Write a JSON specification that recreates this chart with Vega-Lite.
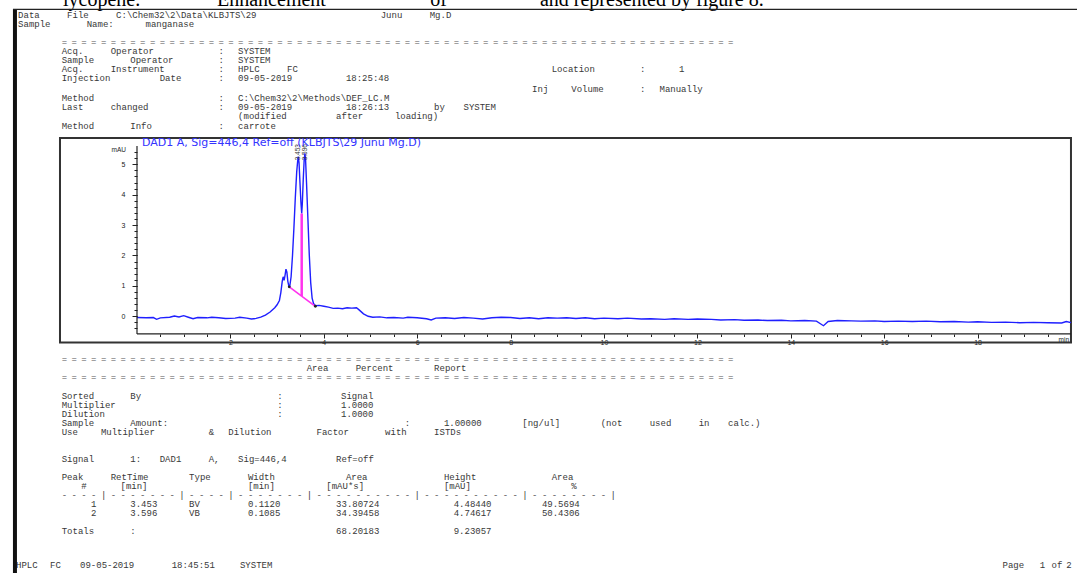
{
  "$schema": "https://vega.github.io/schema/vega-lite/v6.json",
  "width": 1077,
  "height": 573,
  "padding": 0,
  "autosize": {"type": "none"},
  "background": "white",
  "config": {"view": {"stroke": null}},
  "datasets": {
    "txt": [
      {"r": 0, "c": -4.45, "s": "Data"}, {"r": 0, "c": 0.55, "s": "File"}, {"r": 0, "c": 5.55, "s": "C:\\Chem32\\2\\Data\\KLBJTS\\29"}, {"r": 0, "c": 32.55, "s": "Junu"}, {"r": 0, "c": 37.55, "s": "Mg.D"},
      {"r": 1, "c": -4.45, "s": "Sample"}, {"r": 1, "c": 2.55, "s": "Name:"}, {"r": 1, "c": 8.55, "s": "manganase"},
      {"r": 4, "c": 0, "s": "Acq."}, {"r": 4, "c": 5, "s": "Operator"}, {"r": 4, "c": 16, "s": ":"}, {"r": 4, "c": 18, "s": "SYSTEM"},
      {"r": 5, "c": 0, "s": "Sample"}, {"r": 5, "c": 7, "s": "Operator"}, {"r": 5, "c": 16, "s": ":"}, {"r": 5, "c": 18, "s": "SYSTEM"},
      {"r": 6, "c": 0, "s": "Acq."}, {"r": 6, "c": 5, "s": "Instrument"}, {"r": 6, "c": 16, "s": ":"}, {"r": 6, "c": 18, "s": "HPLC"}, {"r": 6, "c": 23, "s": "FC"}, {"r": 6, "c": 50, "s": "Location"}, {"r": 6, "c": 59, "s": ":"}, {"r": 6, "c": 63, "s": "1"},
      {"r": 7, "c": 0, "s": "Injection"}, {"r": 7, "c": 10, "s": "Date"}, {"r": 7, "c": 16, "s": ":"}, {"r": 7, "c": 18, "s": "09-05-2019"}, {"r": 7, "c": 29, "s": "18:25:48"},
      {"r": 8.2, "c": 48, "s": "Inj"}, {"r": 8.2, "c": 52, "s": "Volume"}, {"r": 8.2, "c": 59, "s": ":"}, {"r": 8.2, "c": 61, "s": "Manually"},
      {"r": 9.2, "c": 0, "s": "Method"}, {"r": 9.2, "c": 16, "s": ":"}, {"r": 9.2, "c": 18, "s": "C:\\Chem32\\2\\Methods\\DEF_LC.M"},
      {"r": 10.2, "c": 0, "s": "Last"}, {"r": 10.2, "c": 5, "s": "changed"}, {"r": 10.2, "c": 16, "s": ":"}, {"r": 10.2, "c": 18, "s": "09-05-2019"}, {"r": 10.2, "c": 29, "s": "18:26:13"}, {"r": 10.2, "c": 38, "s": "by"}, {"r": 10.2, "c": 41, "s": "SYSTEM"},
      {"r": 11.2, "c": 18, "s": "(modified"}, {"r": 11.2, "c": 28, "s": "after"}, {"r": 11.2, "c": 34, "s": "loading)"},
      {"r": 12.2, "c": 0, "s": "Method"}, {"r": 12.2, "c": 7, "s": "Info"}, {"r": 12.2, "c": 16, "s": ":"}, {"r": 12.2, "c": 18, "s": "carrote"},
      {"r": 39, "c": 25, "s": "Area"}, {"r": 39, "c": 30, "s": "Percent"}, {"r": 39, "c": 38, "s": "Report"},
      {"r": 42, "c": 0, "s": "Sorted"}, {"r": 42, "c": 7, "s": "By"}, {"r": 42, "c": 22, "s": ":"}, {"r": 42, "c": 28.5, "s": "Signal"},
      {"r": 43, "c": 0, "s": "Multiplier"}, {"r": 43, "c": 22, "s": ":"}, {"r": 43, "c": 28.5, "s": "1.0000"},
      {"r": 44, "c": 0, "s": "Dilution"}, {"r": 44, "c": 22, "s": ":"}, {"r": 44, "c": 28.5, "s": "1.0000"},
      {"r": 45, "c": 0, "s": "Sample"}, {"r": 45, "c": 7, "s": "Amount:"}, {"r": 45, "c": 35, "s": ":"}, {"r": 45, "c": 39, "s": "1.00000"}, {"r": 45, "c": 47, "s": "[ng/ul]"}, {"r": 45, "c": 55, "s": "(not"}, {"r": 45, "c": 60, "s": "used"}, {"r": 45, "c": 65, "s": "in"}, {"r": 45, "c": 68, "s": "calc.)"},
      {"r": 46, "c": 0, "s": "Use"}, {"r": 46, "c": 4, "s": "Multiplier"}, {"r": 46, "c": 15, "s": "&"}, {"r": 46, "c": 17, "s": "Dilution"}, {"r": 46, "c": 26, "s": "Factor"}, {"r": 46, "c": 33, "s": "with"}, {"r": 46, "c": 38, "s": "ISTDs"},
      {"r": 49, "c": 0, "s": "Signal"}, {"r": 49, "c": 7, "s": "1:"}, {"r": 49, "c": 10, "s": "DAD1"}, {"r": 49, "c": 15, "s": "A,"}, {"r": 49, "c": 18, "s": "Sig=446,4"}, {"r": 49, "c": 28, "s": "Ref=off"},
      {"r": 51, "c": 0, "s": "Peak"}, {"r": 51, "c": 5, "s": "RetTime"}, {"r": 51, "c": 13, "s": "Type"}, {"r": 51, "c": 19, "s": "Width"}, {"r": 51, "c": 29, "s": "Area"}, {"r": 51, "c": 39, "s": "Height"}, {"r": 51, "c": 50, "s": "Area"},
      {"r": 52, "c": 2, "s": "#"}, {"r": 52, "c": 6, "s": "[min]"}, {"r": 52, "c": 19, "s": "[min]"}, {"r": 52, "c": 27, "s": "[mAU*s]"}, {"r": 52, "c": 39, "s": "[mAU]"}, {"r": 52, "c": 52, "s": "%"},
      {"r": 53, "c": 4, "s": "|"}, {"r": 53, "c": 12, "s": "|"}, {"r": 53, "c": 17, "s": "|"}, {"r": 53, "c": 25, "s": "|"}, {"r": 53, "c": 36, "s": "|"}, {"r": 53, "c": 47, "s": "|"}, {"r": 53, "c": 56, "s": "|"},
      {"r": 54, "c": 3, "s": "1"}, {"r": 54, "c": 7, "s": "3.453"}, {"r": 54, "c": 13, "s": "BV"}, {"r": 54, "c": 19, "s": "0.1120"}, {"r": 54, "c": 28, "s": "33.80724"}, {"r": 54, "c": 40, "s": "4.48440"}, {"r": 54, "c": 49, "s": "49.5694"},
      {"r": 55, "c": 3, "s": "2"}, {"r": 55, "c": 7, "s": "3.596"}, {"r": 55, "c": 13, "s": "VB"}, {"r": 55, "c": 19, "s": "0.1085"}, {"r": 55, "c": 28, "s": "34.39458"}, {"r": 55, "c": 40, "s": "4.74617"}, {"r": 55, "c": 49, "s": "50.4306"},
      {"r": 57, "c": 0, "s": "Totals"}, {"r": 57, "c": 7, "s": ":"}, {"r": 57, "c": 28, "s": "68.20183"}, {"r": 57, "c": 40, "s": "9.23057"},
      {"r": 60.7, "c": -4.66, "s": "HPLC"}, {"r": 60.7, "c": -1.19, "s": "FC"}, {"r": 60.7, "c": 1.87, "s": "09-05-2019"}, {"r": 60.7, "c": 11.22, "s": "18:45:51"}, {"r": 60.7, "c": 18.19, "s": "SYSTEM"},
      {"r": 60.7, "c": 96, "s": "Page"}, {"r": 60.7, "c": 99.8, "s": "1"}, {"r": 60.7, "c": 101, "s": "of"}, {"r": 60.7, "c": 102.5, "s": "2"}
    ],
    "eqcols": [
      {"c": 0}, {"c": 1}, {"c": 2}, {"c": 3}, {"c": 4}, {"c": 5}, {"c": 6}, {"c": 7}, {"c": 8}, {"c": 9},
      {"c": 10}, {"c": 11}, {"c": 12}, {"c": 13}, {"c": 14}, {"c": 15}, {"c": 16}, {"c": 17}, {"c": 18}, {"c": 19},
      {"c": 20}, {"c": 21}, {"c": 22}, {"c": 23}, {"c": 24}, {"c": 25}, {"c": 26}, {"c": 27}, {"c": 28}, {"c": 29},
      {"c": 30}, {"c": 31}, {"c": 32}, {"c": 33}, {"c": 34}, {"c": 35}, {"c": 36}, {"c": 37}, {"c": 38}, {"c": 39},
      {"c": 40}, {"c": 41}, {"c": 42}, {"c": 43}, {"c": 44}, {"c": 45}, {"c": 46}, {"c": 47}, {"c": 48}, {"c": 49},
      {"c": 50}, {"c": 51}, {"c": 52}, {"c": 53}, {"c": 54}, {"c": 55}, {"c": 56}, {"c": 57}, {"c": 58}, {"c": 59},
      {"c": 60}, {"c": 61}, {"c": 62}, {"c": 63}, {"c": 64}, {"c": 65}, {"c": 66}, {"c": 67}, {"c": 68}
    ],
    "dashcols": [
      {"c": 0}, {"c": 1}, {"c": 2}, {"c": 3},
      {"c": 5}, {"c": 6}, {"c": 7}, {"c": 8}, {"c": 9}, {"c": 10}, {"c": 11},
      {"c": 13}, {"c": 14}, {"c": 15}, {"c": 16},
      {"c": 18}, {"c": 19}, {"c": 20}, {"c": 21}, {"c": 22}, {"c": 23}, {"c": 24},
      {"c": 26}, {"c": 27}, {"c": 28}, {"c": 29}, {"c": 30}, {"c": 31}, {"c": 32}, {"c": 33}, {"c": 34}, {"c": 35},
      {"c": 37}, {"c": 38}, {"c": 39}, {"c": 40}, {"c": 41}, {"c": 42}, {"c": 43}, {"c": 44}, {"c": 45}, {"c": 46},
      {"c": 48}, {"c": 49}, {"c": 50}, {"c": 51}, {"c": 52}, {"c": 53}, {"c": 54}, {"c": 55}
    ],
    "serif": [
      {"r": -1.0, "c": 0.13, "s": "lycopene."}, {"r": -1.0, "c": 15.85, "s": "Enhancement"}, {"r": -1.0, "c": 37.6, "s": "of"}, {"r": -1.0, "c": 48.8, "s": "and represented by figure 8."}
    ],
    "pagebar": [{"c": -4.77, "r0": -0.66, "r1": 61.589}],
    "trace": [
      {"t": 0, "v": -0.04}, {"t": 0.2, "v": -0.05}, {"t": 0.35, "v": -0.04}, {"t": 0.42, "v": -0.1}, {"t": 0.5, "v": -0.05}, {"t": 0.7, "v": -0.03}, {"t": 0.8, "v": 0.01}, {"t": 0.9, "v": -0.02}, {"t": 1.0, "v": 0.02}, {"t": 1.1, "v": -0.03}, {"t": 1.2, "v": -0.08}, {"t": 1.3, "v": -0.04}, {"t": 1.5, "v": -0.05}, {"t": 1.6, "v": -0.03}, {"t": 1.75, "v": -0.05}, {"t": 1.9, "v": -0.07}, {"t": 2.1, "v": -0.06}, {"t": 2.2, "v": -0.03}, {"t": 2.35, "v": -0.06}, {"t": 2.45, "v": -0.09}, {"t": 2.55, "v": -0.07}, {"t": 2.65, "v": -0.03}, {"t": 2.75, "v": 0.04}, {"t": 2.85, "v": 0.14}, {"t": 2.95, "v": 0.28}, {"t": 3.0, "v": 0.38}, {"t": 3.05, "v": 0.52}, {"t": 3.08, "v": 0.78}, {"t": 3.11, "v": 1.15}, {"t": 3.13, "v": 1.3}, {"t": 3.15, "v": 1.18}, {"t": 3.17, "v": 1.35}, {"t": 3.19, "v": 1.55}, {"t": 3.21, "v": 1.45}, {"t": 3.23, "v": 1.15}, {"t": 3.25, "v": 1.0}, {"t": 3.27, "v": 0.98}, {"t": 3.3, "v": 1.3}, {"t": 3.33, "v": 2.0}, {"t": 3.36, "v": 2.9}, {"t": 3.39, "v": 3.9}, {"t": 3.42, "v": 4.75}, {"t": 3.44, "v": 5.1}, {"t": 3.453, "v": 5.25}, {"t": 3.47, "v": 5.05}, {"t": 3.49, "v": 4.4}, {"t": 3.51, "v": 3.75}, {"t": 3.527, "v": 3.38}, {"t": 3.54, "v": 3.7}, {"t": 3.56, "v": 4.5}, {"t": 3.58, "v": 5.15}, {"t": 3.596, "v": 5.36}, {"t": 3.61, "v": 5.15}, {"t": 3.63, "v": 4.4}, {"t": 3.66, "v": 3.2}, {"t": 3.69, "v": 2.0}, {"t": 3.72, "v": 1.1}, {"t": 3.75, "v": 0.6}, {"t": 3.78, "v": 0.42}, {"t": 3.82, "v": 0.35}, {"t": 3.9, "v": 0.36}, {"t": 4.0, "v": 0.33}, {"t": 4.1, "v": 0.3}, {"t": 4.2, "v": 0.26}, {"t": 4.3, "v": 0.27}, {"t": 4.4, "v": 0.25}, {"t": 4.5, "v": 0.28}, {"t": 4.6, "v": 0.27}, {"t": 4.7, "v": 0.28}, {"t": 4.75, "v": 0.22}, {"t": 4.85, "v": 0.08}, {"t": 4.95, "v": 0.0}, {"t": 5.05, "v": -0.03}, {"t": 5.2, "v": -0.02}, {"t": 5.35, "v": -0.05}, {"t": 5.5, "v": -0.04}, {"t": 5.7, "v": -0.06}, {"t": 5.8, "v": -0.03}, {"t": 6.0, "v": -0.05}, {"t": 6.2, "v": -0.08}, {"t": 6.3, "v": -0.12}, {"t": 6.4, "v": -0.06}, {"t": 6.6, "v": -0.05}, {"t": 6.8, "v": -0.07}, {"t": 7.0, "v": -0.04}, {"t": 7.2, "v": -0.06}, {"t": 7.4, "v": -0.09}, {"t": 7.6, "v": -0.05}, {"t": 7.8, "v": -0.03}, {"t": 8.0, "v": -0.04}, {"t": 8.2, "v": -0.07}, {"t": 8.4, "v": -0.05}, {"t": 8.6, "v": -0.08}, {"t": 8.8, "v": -0.05}, {"t": 9.0, "v": -0.06}, {"t": 9.2, "v": -0.05}, {"t": 9.4, "v": -0.07}, {"t": 9.6, "v": -0.05}, {"t": 9.8, "v": -0.08}, {"t": 10.0, "v": -0.06}, {"t": 10.3, "v": -0.08}, {"t": 10.5, "v": -0.06}, {"t": 10.8, "v": -0.09}, {"t": 11.0, "v": -0.08}, {"t": 11.3, "v": -0.1}, {"t": 11.5, "v": -0.08}, {"t": 11.8, "v": -0.1}, {"t": 12.0, "v": -0.09}, {"t": 12.3, "v": -0.1}, {"t": 12.5, "v": -0.12}, {"t": 12.8, "v": -0.11}, {"t": 13.0, "v": -0.13}, {"t": 13.3, "v": -0.12}, {"t": 13.5, "v": -0.14}, {"t": 13.8, "v": -0.13}, {"t": 14.0, "v": -0.15}, {"t": 14.3, "v": -0.14}, {"t": 14.55, "v": -0.16}, {"t": 14.7, "v": -0.31}, {"t": 14.8, "v": -0.17}, {"t": 15.0, "v": -0.14}, {"t": 15.3, "v": -0.15}, {"t": 15.5, "v": -0.16}, {"t": 15.8, "v": -0.15}, {"t": 16.0, "v": -0.17}, {"t": 16.3, "v": -0.16}, {"t": 16.6, "v": -0.17}, {"t": 16.9, "v": -0.16}, {"t": 17.2, "v": -0.18}, {"t": 17.5, "v": -0.17}, {"t": 17.8, "v": -0.19}, {"t": 18.0, "v": -0.18}, {"t": 18.3, "v": -0.2}, {"t": 18.6, "v": -0.19}, {"t": 18.9, "v": -0.21}, {"t": 19.2, "v": -0.2}, {"t": 19.5, "v": -0.21}, {"t": 19.8, "v": -0.22}, {"t": 19.9, "v": -0.17}, {"t": 20.0, "v": -0.21}
    ],
    "baseline": [{"t": 3.26, "v": 0.97}, {"t": 3.82, "v": 0.33}],
    "drop": [{"t": 3.527, "v0": 0.665, "v1": 3.38}],
    "peaks": [{"t": 3.453, "label": "3.453"}, {"t": 3.596, "label": "3.596"}]
  },
  "layer": [
    {
      "layer": [
        {
          "data": {"name": "txt"},
          "mark": {"type": "text", "font": "Liberation Mono", "fontSize": 9, "align": "left", "baseline": "middle", "color": "#383838"},
          "encoding": {
            "x": {"field": "c", "type": "quantitative", "scale": {"domain": [-6.296, 103.602], "nice": false, "zero": false}, "axis": null},
            "y": {"field": "r", "type": "quantitative", "scale": {"domain": [-1.6556, 61.589], "nice": false, "zero": false, "reverse": true}, "axis": null},
            "text": {"field": "s"}
          }
        },
        {
          "data": {"name": "eqcols"},
          "mark": {"type": "text", "text": "=", "font": "Liberation Mono", "fontSize": 9, "align": "left", "baseline": "middle", "color": "#555555"},
          "encoding": {
            "x": {"field": "c", "type": "quantitative", "scale": {"domain": [-6.296, 103.602], "nice": false, "zero": false}, "axis": null},
            "y": {"datum": 3, "type": "quantitative", "scale": {"domain": [-1.6556, 61.589], "nice": false, "zero": false, "reverse": true}, "axis": null}
          }
        },
        {
          "data": {"name": "eqcols"},
          "mark": {"type": "text", "text": "=", "font": "Liberation Mono", "fontSize": 9, "align": "left", "baseline": "middle", "color": "#555555"},
          "encoding": {
            "x": {"field": "c", "type": "quantitative", "scale": {"domain": [-6.296, 103.602], "nice": false, "zero": false}, "axis": null},
            "y": {"datum": 38, "type": "quantitative", "scale": {"domain": [-1.6556, 61.589], "nice": false, "zero": false, "reverse": true}, "axis": null}
          }
        },
        {
          "data": {"name": "eqcols"},
          "mark": {"type": "text", "text": "=", "font": "Liberation Mono", "fontSize": 9, "align": "left", "baseline": "middle", "color": "#555555"},
          "encoding": {
            "x": {"field": "c", "type": "quantitative", "scale": {"domain": [-6.296, 103.602], "nice": false, "zero": false}, "axis": null},
            "y": {"datum": 40, "type": "quantitative", "scale": {"domain": [-1.6556, 61.589], "nice": false, "zero": false, "reverse": true}, "axis": null}
          }
        },
        {
          "data": {"name": "dashcols"},
          "mark": {"type": "text", "text": "-", "font": "Liberation Mono", "fontSize": 9, "align": "left", "baseline": "middle", "color": "#555555"},
          "encoding": {
            "x": {"field": "c", "type": "quantitative", "scale": {"domain": [-6.296, 103.602], "nice": false, "zero": false}, "axis": null},
            "y": {"datum": 53, "type": "quantitative", "scale": {"domain": [-1.6556, 61.589], "nice": false, "zero": false, "reverse": true}, "axis": null}
          }
        },
        {
          "data": {"name": "serif"},
          "mark": {"type": "text", "font": "Liberation Serif", "fontSize": 20, "align": "left", "baseline": "alphabetic", "color": "#000000"},
          "encoding": {
            "x": {"field": "c", "type": "quantitative", "scale": {"domain": [-6.296, 103.602], "nice": false, "zero": false}, "axis": null},
            "y": {"field": "r", "type": "quantitative", "scale": {"domain": [-1.6556, 61.589], "nice": false, "zero": false, "reverse": true}, "axis": null},
            "text": {"field": "s"}
          }
        },
        {
          "data": {"name": "pagebar"},
          "mark": {"type": "rule", "color": "#111111", "strokeWidth": 4},
          "encoding": {
            "x": {"field": "c", "type": "quantitative", "scale": {"domain": [-6.296, 103.602], "nice": false, "zero": false}, "axis": null},
            "y": {"field": "r0", "type": "quantitative", "scale": {"domain": [-1.6556, 61.589], "nice": false, "zero": false, "reverse": true}, "axis": null},
            "y2": {"field": "r1"}
          }
        },
        {
          "data": {"values": [{}]},
          "mark": {"type": "rule", "color": "#222222", "strokeWidth": 1.2},
          "encoding": {
            "x": {"datum": -4.97, "type": "quantitative", "scale": {"domain": [-6.296, 103.602], "nice": false, "zero": false}, "axis": null},
            "x2": {"datum": 103.602},
            "y": {"datum": -0.62, "type": "quantitative", "scale": {"domain": [-1.6556, 61.589], "nice": false, "zero": false, "reverse": true}, "axis": null}
          }
        }
      ]
    },
    {
      "layer": [
        {
          "data": {"values": [{}]},
          "mark": {"type": "rect", "fill": "transparent", "stroke": "#333333", "strokeWidth": 2},
          "encoding": {
            "x": {"datum": -1.649, "type": "quantitative", "scale": {"domain": [-2.9336, 20.129], "nice": false, "zero": false},
              "axis": {"orient": "bottom", "offset": -239, "values": [0.5, 1, 1.5, 2, 2.5, 3, 3.5, 4, 4.5, 5, 5.5, 6, 6.5, 7, 7.5, 8, 8.5, 9, 9.5, 10, 10.5, 11, 11.5, 12, 12.5, 13, 13.5, 14, 14.5, 15, 15.5, 16, 16.5, 17, 17.5, 18, 18.5, 19, 19.5], "labels": false, "domain": false, "grid": false, "title": null, "tickSize": 2.5, "tickColor": "#222222", "tickWidth": 1}},
            "x2": {"datum": 20.0},
            "y": {"datum": -0.862, "type": "quantitative", "scale": {"domain": [-8.4441, 10.4046], "nice": false, "zero": false},
              "axis": {"orient": "left", "offset": -137, "values": [-0.4, -0.2, 0, 0.2, 0.4, 0.6, 0.8, 1, 1.2, 1.4, 1.6, 1.8, 2, 2.2, 2.4, 2.6, 2.8, 3, 3.2, 3.4, 3.6, 3.8, 4, 4.2, 4.4, 4.6, 4.8, 5, 5.2, 5.4], "labels": false, "domain": false, "grid": false, "title": null, "tickSize": 3, "tickColor": "#222222", "tickWidth": 1}},
            "y2": {"datum": 5.865}
          }
        },
        {
          "data": {"name": "trace"},
          "mark": {"type": "line", "color": "#1f1fff", "strokeWidth": 1.4, "interpolate": "linear"},
          "encoding": {
            "x": {"field": "t", "type": "quantitative", "scale": {"domain": [-2.9336, 20.129], "nice": false, "zero": false},
              "axis": {"orient": "bottom", "offset": -239, "values": [2, 4, 6, 8, 10, 12, 14, 16, 18], "domain": false, "grid": false, "title": null, "tickSize": 4, "tickColor": "#222222", "labelFont": "Liberation Sans", "labelFontSize": 7, "labelColor": "#222222", "labelPadding": 0, "labelFlush": false, "labelOverlap": false}},
            "y": {"field": "v", "type": "quantitative", "scale": {"domain": [-8.4441, 10.4046], "nice": false, "zero": false},
              "axis": {"orient": "left", "offset": -137, "values": [0, 1, 2, 3, 4, 5], "domain": false, "grid": false, "title": null, "tickSize": 5, "tickColor": "#222222", "labelFont": "Liberation Sans", "labelFontSize": 7, "labelColor": "#222222", "labelPadding": 7, "labelFlush": false, "labelOverlap": false}}
          }
        },
        {
          "data": {"values": [{}]},
          "mark": {"type": "rule", "color": "#222222", "strokeWidth": 1.2},
          "encoding": {
            "x": {"datum": 0, "type": "quantitative", "scale": {"domain": [-2.9336, 20.129], "nice": false, "zero": false}, "axis": null},
            "x2": {"datum": 20.0},
            "y": {"datum": -0.58, "type": "quantitative", "scale": {"domain": [-8.4441, 10.4046], "nice": false, "zero": false}, "axis": null}
          }
        },
        {
          "data": {"values": [{}]},
          "mark": {"type": "rule", "color": "#222222", "strokeWidth": 1.2},
          "encoding": {
            "x": {"datum": 0, "type": "quantitative", "scale": {"domain": [-2.9336, 20.129], "nice": false, "zero": false}, "axis": null},
            "y": {"datum": -0.58, "type": "quantitative", "scale": {"domain": [-8.4441, 10.4046], "nice": false, "zero": false}, "axis": null},
            "y2": {"datum": 5.6}
          }
        },
        {
          "data": {"name": "baseline"},
          "mark": {"type": "line", "color": "#ff33ee", "strokeWidth": 1.6, "point": {"filled": true, "color": "#222222", "size": 8}},
          "encoding": {
            "x": {"field": "t", "type": "quantitative", "scale": {"domain": [-2.9336, 20.129], "nice": false, "zero": false}, "axis": null},
            "y": {"field": "v", "type": "quantitative", "scale": {"domain": [-8.4441, 10.4046], "nice": false, "zero": false}, "axis": null}
          }
        },
        {
          "data": {"name": "drop"},
          "mark": {"type": "rule", "color": "#ff33ee", "strokeWidth": 2.5},
          "encoding": {
            "x": {"field": "t", "type": "quantitative", "scale": {"domain": [-2.9336, 20.129], "nice": false, "zero": false}, "axis": null},
            "y": {"field": "v0", "type": "quantitative", "scale": {"domain": [-8.4441, 10.4046], "nice": false, "zero": false}, "axis": null},
            "y2": {"field": "v1"}
          }
        },
        {
          "data": {"name": "peaks"},
          "mark": {"type": "text", "angle": 270, "align": "left", "baseline": "middle", "font": "Liberation Sans", "fontSize": 6.5, "color": "#333333"},
          "encoding": {
            "x": {"field": "t", "type": "quantitative", "scale": {"domain": [-2.9336, 20.129], "nice": false, "zero": false}, "axis": null},
            "y": {"datum": 5.13, "type": "quantitative", "scale": {"domain": [-8.4441, 10.4046], "nice": false, "zero": false}, "axis": null},
            "text": {"field": "label"}
          }
        },
        {
          "data": {"values": [{}]},
          "mark": {"type": "text", "text": "DAD1 A, Sig=446,4 Ref=off (KLBJTS\\29 Junu Mg.D)", "font": "DejaVu Sans", "fontSize": 11, "align": "left", "baseline": "middle", "color": "#3434ff"},
          "encoding": {
            "x": {"datum": 0.107, "type": "quantitative", "scale": {"domain": [-2.9336, 20.129], "nice": false, "zero": false}, "axis": null},
            "y": {"datum": 5.7, "type": "quantitative", "scale": {"domain": [-8.4441, 10.4046], "nice": false, "zero": false}, "axis": null}
          }
        },
        {
          "data": {"values": [{}]},
          "mark": {"type": "text", "text": "mAU", "font": "Liberation Sans", "fontSize": 6.5, "align": "right", "baseline": "middle", "color": "#222222"},
          "encoding": {
            "x": {"datum": -0.236, "type": "quantitative", "scale": {"domain": [-2.9336, 20.129], "nice": false, "zero": false}, "axis": null},
            "y": {"datum": 5.47, "type": "quantitative", "scale": {"domain": [-8.4441, 10.4046], "nice": false, "zero": false}, "axis": null}
          }
        },
        {
          "data": {"values": [{}]},
          "mark": {"type": "text", "text": "min", "font": "Liberation Sans", "fontSize": 6.5, "align": "right", "baseline": "middle", "color": "#222222"},
          "encoding": {
            "x": {"datum": 19.96, "type": "quantitative", "scale": {"domain": [-2.9336, 20.129], "nice": false, "zero": false}, "axis": null},
            "y": {"datum": -0.78, "type": "quantitative", "scale": {"domain": [-8.4441, 10.4046], "nice": false, "zero": false}, "axis": null}
          }
        }
      ],
      "resolve": {"axis": {"x": "independent", "y": "independent"}}
    }
  ],
  "resolve": {"scale": {"x": "independent", "y": "independent"}}
}
